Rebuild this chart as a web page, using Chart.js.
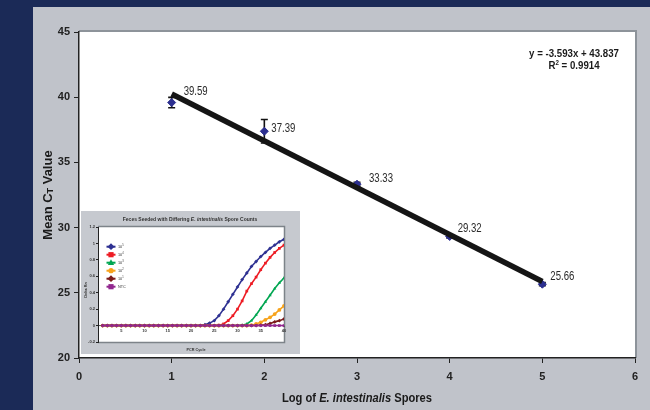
<!DOCTYPE html>
<html>
<head>
<meta charset="utf-8">
<script src="https://cdn.jsdelivr.net/npm/chart.js"></script>
<style>
  html, body { margin: 0; padding: 0; background: #1b2a57; }
  #wrap { position: relative; width: 650px; height: 410px; overflow: hidden; }
  #panel { position: absolute; left: 33px; top: 7px; width: 617px; height: 403px; background: #c0c3ca; }
  #main { position: absolute; left: 0; top: 0; }
  #inset { position: absolute; left: 81px; top: 211px; background: #c6c9cf; }
</style>
</head>
<body>
<div id="wrap">
  <div id="panel"></div>
  <canvas id="main" width="650" height="410"></canvas>
  <canvas id="inset" width="219" height="143"></canvas>
</div>
<script>
// main chart data
let logSpores = [1, 2, 3, 4, 5];
let meanCt = [39.59, 37.39, 33.33, 29.32, 25.66];
let ctError = [0.4, 0.9, 0.15, 0.12, 0.12];
let trendX = [1, 5];
let trendY = [40.24, 25.87];
let equationText = 'y = -3.593x + 43.837';
let r2Text = ' = 0.9914';

// inset: amplification curves
let cycles = [1, 2, 3, 4, 5, 6, 7, 8, 9, 10, 11, 12, 13, 14, 15, 16, 17, 18, 19, 20,
              21, 22, 23, 24, 25, 26, 27, 28, 29, 30, 31, 32, 33, 34, 35, 36, 37, 38, 39, 40];
let amp1e5 = [0, 0, 0, 0, 0, 0, 0, 0, 0, 0, 0, 0, 0, 0, 0, 0, 0, 0, 0, 0,
              0, 0, 0.01, 0.03, 0.06, 0.12, 0.2, 0.29, 0.38, 0.47, 0.56, 0.64, 0.72, 0.78, 0.84, 0.89, 0.94, 0.98, 1.02, 1.05];
let amp1e4 = [0, 0, 0, 0, 0, 0, 0, 0, 0, 0, 0, 0, 0, 0, 0, 0, 0, 0, 0, 0,
              0, 0, 0, 0, 0, 0.005, 0.02, 0.06, 0.12, 0.2, 0.3, 0.42, 0.51, 0.59, 0.68, 0.76, 0.83, 0.89, 0.94, 0.98];
let amp1e3 = [0, 0, 0, 0, 0, 0, 0, 0, 0, 0, 0, 0, 0, 0, 0, 0, 0, 0, 0, 0,
              0, 0, 0, 0, 0, 0, 0, 0, 0, 0, 0.005, 0.02, 0.06, 0.13, 0.21, 0.29, 0.37, 0.45, 0.52, 0.58];
let amp1e2 = [0, 0, 0, 0, 0, 0, 0, 0, 0, 0, 0, 0, 0, 0, 0, 0, 0, 0, 0, 0,
              0, 0, 0, 0, 0, 0, 0, 0, 0, 0, 0, 0, 0.005, 0.02, 0.04, 0.07, 0.1, 0.14, 0.19, 0.24];
let amp1e1 = [0, 0, 0, 0, 0, 0, 0, 0, 0, 0, 0, 0, 0, 0, 0, 0, 0, 0, 0, 0,
              0, 0, 0, 0, 0, 0, 0, 0, 0, 0, 0, 0, 0, 0, 0.005, 0.01, 0.025, 0.045, 0.06, 0.08];
let ampNtc = [0, 0, 0, 0, 0, 0, 0, 0, 0, 0, 0, 0, 0, 0, 0, 0, 0, 0, 0, 0,
              0, 0, 0, 0, 0, 0, 0, 0, 0, 0, 0, 0, 0, 0, 0, 0, 0, 0, 0, 0];
let seriesNames = ['10^5', '10^4', '10^3', '10^2', '10^1', 'NTC'];
let insetXTicks = [5, 10, 15, 20, 25, 30, 35, 40];

const SANS = "'Liberation Sans', Arial, sans-serif";

// draw text made of runs with different fonts, centred on x, squeezed by sx
function drawRuns(ctx, runs, x, y, sx) {
    sx = sx || 1;
    let total = 0;
    runs.forEach(r => { ctx.font = r.font; r.w = ctx.measureText(r.text).width; total += r.w; });
    ctx.save();
    ctx.translate(x - total * sx / 2, y);
    ctx.scale(sx, 1);
    ctx.textAlign = 'left';
    ctx.textBaseline = 'alphabetic';
    let cx = 0;
    runs.forEach(r => {
        ctx.font = r.font;
        ctx.fillText(r.text, cx, r.dy || 0);
        cx += r.w;
    });
    ctx.restore();
}

const labelShift = [[12, -11], [7, -3], [12, -5], [8, -8], [8, -8]];

const mainDecor = {
    id: 'mainDecor',
    beforeDraw(chart) {
        const {ctx, chartArea: a} = chart;
        ctx.save();
        ctx.fillStyle = '#ffffff';
        ctx.fillRect(a.left, a.top, a.right - a.left, a.bottom - a.top);
        ctx.strokeStyle = '#8d939a';
        ctx.lineWidth = 2;
        ctx.beginPath();
        ctx.moveTo(a.left, a.top - 1);
        ctx.lineTo(a.right + 1, a.top - 1);
        ctx.lineTo(a.right + 1, a.bottom);
        ctx.stroke();
        ctx.restore();
    },
    beforeDatasetDraw(chart, args) {
        if (args.index !== 1) return;
        const {ctx} = chart;
        const x = chart.scales.x, y = chart.scales.y;
        ctx.save();
        ctx.strokeStyle = '#111';
        ctx.lineWidth = 1.6;
        logSpores.forEach((v, i) => {
            const px = x.getPixelForValue(v);
            const top = y.getPixelForValue(meanCt[i] + ctError[i]);
            const bot = y.getPixelForValue(meanCt[i] - ctError[i]);
            ctx.beginPath();
            ctx.moveTo(px, top); ctx.lineTo(px, bot);
            ctx.moveTo(px - 3.5, top); ctx.lineTo(px + 3.5, top);
            ctx.moveTo(px - 3.5, bot); ctx.lineTo(px + 3.5, bot);
            ctx.stroke();
        });
        ctx.restore();
    },
    afterDraw(chart) {
        const {ctx} = chart;
        const x = chart.scales.x, y = chart.scales.y;
        ctx.save();
        // data labels (narrow face imitated by squeezing)
        ctx.fillStyle = '#2b2b2b';
        ctx.font = '12px ' + SANS;
        ctx.textAlign = 'left';
        ctx.textBaseline = 'middle';
        logSpores.forEach((v, i) => {
            ctx.save();
            ctx.translate(x.getPixelForValue(v) + labelShift[i][0], y.getPixelForValue(meanCt[i]) + labelShift[i][1]);
            ctx.scale(0.8, 1);
            ctx.fillText(meanCt[i].toFixed(2), 0, 0);
            ctx.restore();
        });
        // trendline equation
        ctx.fillStyle = '#1a1a1a';
        drawRuns(ctx, [{text: equationText, font: 'bold 11px ' + SANS}], 574, 57, 0.88);
        drawRuns(ctx, [
            {text: 'R', font: 'bold 11px ' + SANS},
            {text: '2', font: 'bold 7px ' + SANS, dy: -4},
            {text: r2Text, font: 'bold 11px ' + SANS}
        ], 574, 69, 0.88);
        // x axis title
        drawRuns(ctx, [
            {text: 'Log of ', font: 'bold 12px ' + SANS},
            {text: 'E. intestinalis', font: 'italic bold 12px ' + SANS},
            {text: ' Spores', font: 'bold 12px ' + SANS}
        ], 357, 402, 0.93);
        // y axis title
        ctx.translate(52, 195);
        ctx.rotate(-Math.PI / 2);
        drawRuns(ctx, [
            {text: 'Mean C', font: 'bold 13px ' + SANS},
            {text: 'T', font: 'bold 9px ' + SANS, dy: 1},
            {text: ' Value', font: 'bold 13px ' + SANS}
        ], 0, 0);
        ctx.restore();
    }
};

new Chart(document.getElementById('main'), {
    type: 'scatter',
    data: {
        datasets: [{
            type: 'line',
            label: 'Trend',
            data: trendX.map((v, i) => ({x: v, y: trendY[i]})),
            borderColor: '#151515',
            borderWidth: 5.5,
            borderCapStyle: 'butt',
            pointRadius: 0,
            order: 0
        }, {
            label: 'Mean CT',
            data: logSpores.map((v, i) => ({x: v, y: meanCt[i]})),
            pointStyle: 'rectRot',
            pointRadius: 4,
            backgroundColor: '#2c2f90',
            borderColor: '#2c2f90',
            order: 1
        }]
    },
    options: {
        responsive: false,
        animation: false,
        devicePixelRatio: 1,
        layout: {padding: {left: 33, top: 32, right: 15, bottom: 0}},
        plugins: {legend: {display: false}, tooltip: {enabled: false}},
        scales: {
            x: {
                type: 'linear', min: 0, max: 6,
                ticks: {stepSize: 1, color: '#222', padding: 7, font: {family: SANS, size: 11, weight: 'bold'}},
                grid: {drawOnChartArea: false, tickLength: 5, color: '#222'},
                border: {color: '#222', width: 1.5},
                afterFit(s) { s.height = 52; }
            },
            y: {
                min: 20, max: 45,
                ticks: {stepSize: 5, color: '#222', padding: 4, font: {family: SANS, size: 11, weight: 'bold'}},
                grid: {drawOnChartArea: false, tickLength: 5, color: '#222'},
                border: {color: '#222', width: 1.5},
                afterFit(s) { s.width = 46; }
            }
        }
    },
    plugins: [mainDecor]
});

// ---------- inset chart ----------
const insetColors = ['#2e3192', '#ed1c24', '#00a651', '#f7a31c', '#7b1b1b', '#92278f'];
const insetStyles = ['rectRot', 'rect', 'triangle', 'circle', 'rectRot', 'rect'];
const insetSeries = [amp1e5, amp1e4, amp1e3, amp1e2, amp1e1, ampNtc];

function drawMarker(ctx, style, x, y, r, color) {
    ctx.fillStyle = color;
    ctx.beginPath();
    if (style === 'circle') {
        ctx.arc(x, y, r, 0, Math.PI * 2);
    } else if (style === 'rect') {
        ctx.rect(x - r, y - r, r * 2, r * 2);
    } else if (style === 'rectRot') {
        ctx.moveTo(x, y - r * 1.3); ctx.lineTo(x + r * 1.3, y); ctx.lineTo(x, y + r * 1.3); ctx.lineTo(x - r * 1.3, y);
    } else {
        ctx.moveTo(x, y - r * 1.3); ctx.lineTo(x + r * 1.2, y + r * 0.9); ctx.lineTo(x - r * 1.2, y + r * 0.9);
    }
    ctx.closePath();
    ctx.fill();
}

const insetDecor = {
    id: 'insetDecor',
    beforeDraw(chart) {
        const {ctx, chartArea: a} = chart;
        ctx.save();
        ctx.fillStyle = '#ffffff';
        ctx.fillRect(a.left, a.top, a.right - a.left, a.bottom - a.top);
        ctx.strokeStyle = '#7d8389';
        ctx.lineWidth = 1.5;
        ctx.beginPath();
        ctx.moveTo(a.left, a.top - 0.5);
        ctx.lineTo(a.right + 0.5, a.top - 0.5);
        ctx.lineTo(a.right + 0.5, a.bottom + 0.5);
        ctx.lineTo(a.left, a.bottom + 0.5);
        ctx.stroke();
        ctx.restore();
    },
    beforeDatasetsDraw(chart) {
        const {ctx, chartArea: a} = chart;
        const x = chart.scales.x, y = chart.scales.y;
        const y0 = y.getPixelForValue(0);
        ctx.save();
        ctx.strokeStyle = '#222';
        ctx.lineWidth = 0.8;
        ctx.beginPath();
        ctx.moveTo(a.left, y0); ctx.lineTo(a.right, y0);
        insetXTicks.forEach(t => {
            const px = x.getPixelForValue(t);
            ctx.moveTo(px, y0); ctx.lineTo(px, y0 + 1.5);
        });
        ctx.stroke();
        ctx.fillStyle = '#333';
        ctx.font = 'bold 4px ' + SANS;
        ctx.textAlign = 'center';
        ctx.textBaseline = 'middle';
        insetXTicks.forEach(t => ctx.fillText(String(t), x.getPixelForValue(t), y0 + 5.5));
        ctx.restore();
    },
    afterDraw(chart) {
        const {ctx} = chart;
        ctx.save();
        ctx.fillStyle = '#333';
        drawRuns(ctx, [
            {text: 'Feces Seeded with Differing ', font: 'bold 5px ' + SANS},
            {text: 'E. intestinalis', font: 'italic bold 5px ' + SANS},
            {text: ' Spore Counts', font: 'bold 5px ' + SANS}
        ], 109, 10);
        drawRuns(ctx, [{text: 'PCR Cycle', font: 'bold 3.8px ' + SANS}], 115, 140);
        // legend
        const lx = 30, ly = 35.7;
        chart.data.datasets.forEach((ds, i) => {
            const yy = ly + i * 8;
            ctx.strokeStyle = insetColors[i];
            ctx.lineWidth = 2;
            ctx.beginPath();
            ctx.moveTo(lx - 4.5, yy); ctx.lineTo(lx + 4.5, yy);
            ctx.stroke();
            drawMarker(ctx, insetStyles[i], lx, yy, 2.6, insetColors[i]);
            ctx.fillStyle = '#333';
            const parts = seriesNames[i].split('^');
            ctx.textAlign = 'left';
            ctx.textBaseline = 'middle';
            ctx.font = '3.8px ' + SANS;
            ctx.fillText(parts[0], lx + 7, yy + 0.5);
            if (parts[1]) {
                const w = ctx.measureText(parts[0]).width;
                ctx.font = '2.6px ' + SANS;
                ctx.fillText(parts[1], lx + 7 + w, yy - 1);
            }
        });
        ctx.translate(5, 79);
        ctx.rotate(-Math.PI / 2);
        drawRuns(ctx, [{text: 'Delta Rn', font: 'bold 3.8px ' + SANS}], 0, 1);
        ctx.restore();
    }
};

new Chart(document.getElementById('inset'), {
    type: 'scatter',
    data: {
        datasets: insetSeries.map((vals, i) => ({
            label: seriesNames[i],
            data: cycles.map((c, j) => ({x: c, y: vals[j]})),
            showLine: true,
            borderColor: insetColors[i],
            backgroundColor: insetColors[i],
            borderWidth: 1.6,
            pointStyle: insetStyles[i],
            pointRadius: 1.9,
            pointBorderWidth: 0,
            order: 5 - i
        }))
    },
    options: {
        responsive: false,
        animation: false,
        devicePixelRatio: 1,
        layout: {padding: {left: 0, top: 16, right: 16, bottom: 0}},
        plugins: {legend: {display: false}, tooltip: {enabled: false}},
        scales: {
            x: {
                type: 'linear', min: 0, max: 40,
                ticks: {display: false},
                grid: {display: false},
                border: {display: false},
                afterFit(s) { s.height = 12; }
            },
            y: {
                min: -0.2, max: 1.2,
                ticks: {
                    stepSize: 0.2, color: '#333', padding: 1,
                    font: {family: SANS, size: 4, weight: 'bold'},
                    callback: v => String(Number(v.toFixed(1)))
                },
                grid: {drawOnChartArea: false, tickLength: 2, color: '#222'},
                border: {color: '#222', width: 1},
                afterFit(s) { s.width = 17; }
            }
        }
    },
    plugins: [insetDecor]
});
</script>
</body>
</html>
